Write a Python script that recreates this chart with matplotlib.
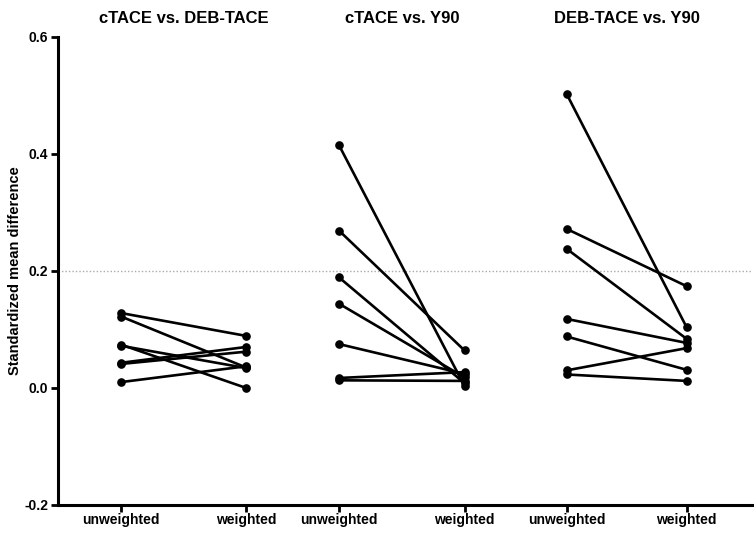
import matplotlib
matplotlib.use('Agg')
import matplotlib.pyplot as plt

plt.rcParams['font.family'] = ['Liberation Sans Narrow', 'Liberation Sans', 'DejaVu Sans']
plt.rcParams['font.weight'] = 'bold'

# 三组比较的标题
groups = ['cTACE vs. DEB-TACE', 'cTACE vs. Y90', 'DEB-TACE vs. Y90']
tick_labels = ['unweighted', 'weighted']

# 每组：加权前 / 加权后 的标准化均数差
g1_unweighted = [0.128, 0.122, 0.074, 0.072, 0.043, 0.041, 0.010]
g1_weighted = [0.089, 0.035, 0.000, 0.034, 0.070, 0.062, 0.037]

g2_unweighted = [0.415, 0.269, 0.189, 0.144, 0.075, 0.017, 0.013]
g2_weighted = [0.003, 0.064, 0.008, 0.018, 0.024, 0.027, 0.012]

g3_unweighted = [0.503, 0.272, 0.238, 0.118, 0.088, 0.030, 0.023]
g3_weighted = [0.104, 0.174, 0.084, 0.077, 0.031, 0.068, 0.012]

data = [(g1_unweighted, g1_weighted), (g2_unweighted, g2_weighted), (g3_unweighted, g3_weighted)]
xpos = [(0.091, 0.271), (0.405, 0.586), (0.733, 0.906)]

fig = plt.figure(figsize=(7.54, 5.36), dpi=100)
ax = fig.add_axes([0.077, 0.058, 0.92, 0.873])

for (u, w), (x0, x1) in zip(data, xpos):
    for a, b in zip(u, w):
        ax.plot([x0, x1], [a, b], color='black', lw=1.9, marker='o', ms=5.2,
                solid_capstyle='round', clip_on=False)

ax.axhline(0.2, color='#aaaaaa', lw=1.0, ls=(0, (1, 1.5)), zorder=0)

ax.set_xlim(0, 1)
ax.set_ylim(-0.2, 0.6)
ax.set_yticks([-0.2, 0.0, 0.2, 0.4, 0.6])
ax.set_yticklabels(['-0.2', '0.0', '0.2', '0.4', '0.6'])
ticks = [x for pair in xpos for x in pair]
ax.set_xticks(ticks)
ax.set_xticklabels(tick_labels * 3)
ax.tick_params(axis='both', direction='out', length=5, width=2, labelsize=10, pad=2)
ax.tick_params(axis='x', pad=1)

for s in ['top', 'right']:
    ax.spines[s].set_visible(False)
for s in ['left', 'bottom']:
    ax.spines[s].set_linewidth(2.2)

ax.set_ylabel('Standardized mean difference', fontsize=10.5, fontweight='bold', labelpad=0)
ax.yaxis.set_label_coords(-0.052, 0.5)

for name, (x0, x1) in zip(groups, xpos):
    ax.text((x0 + x1) / 2, 1.04, name, transform=ax.transAxes, ha='center', va='center',
            fontsize=12, fontweight='bold')

fig.savefig('out.png', dpi=100)
